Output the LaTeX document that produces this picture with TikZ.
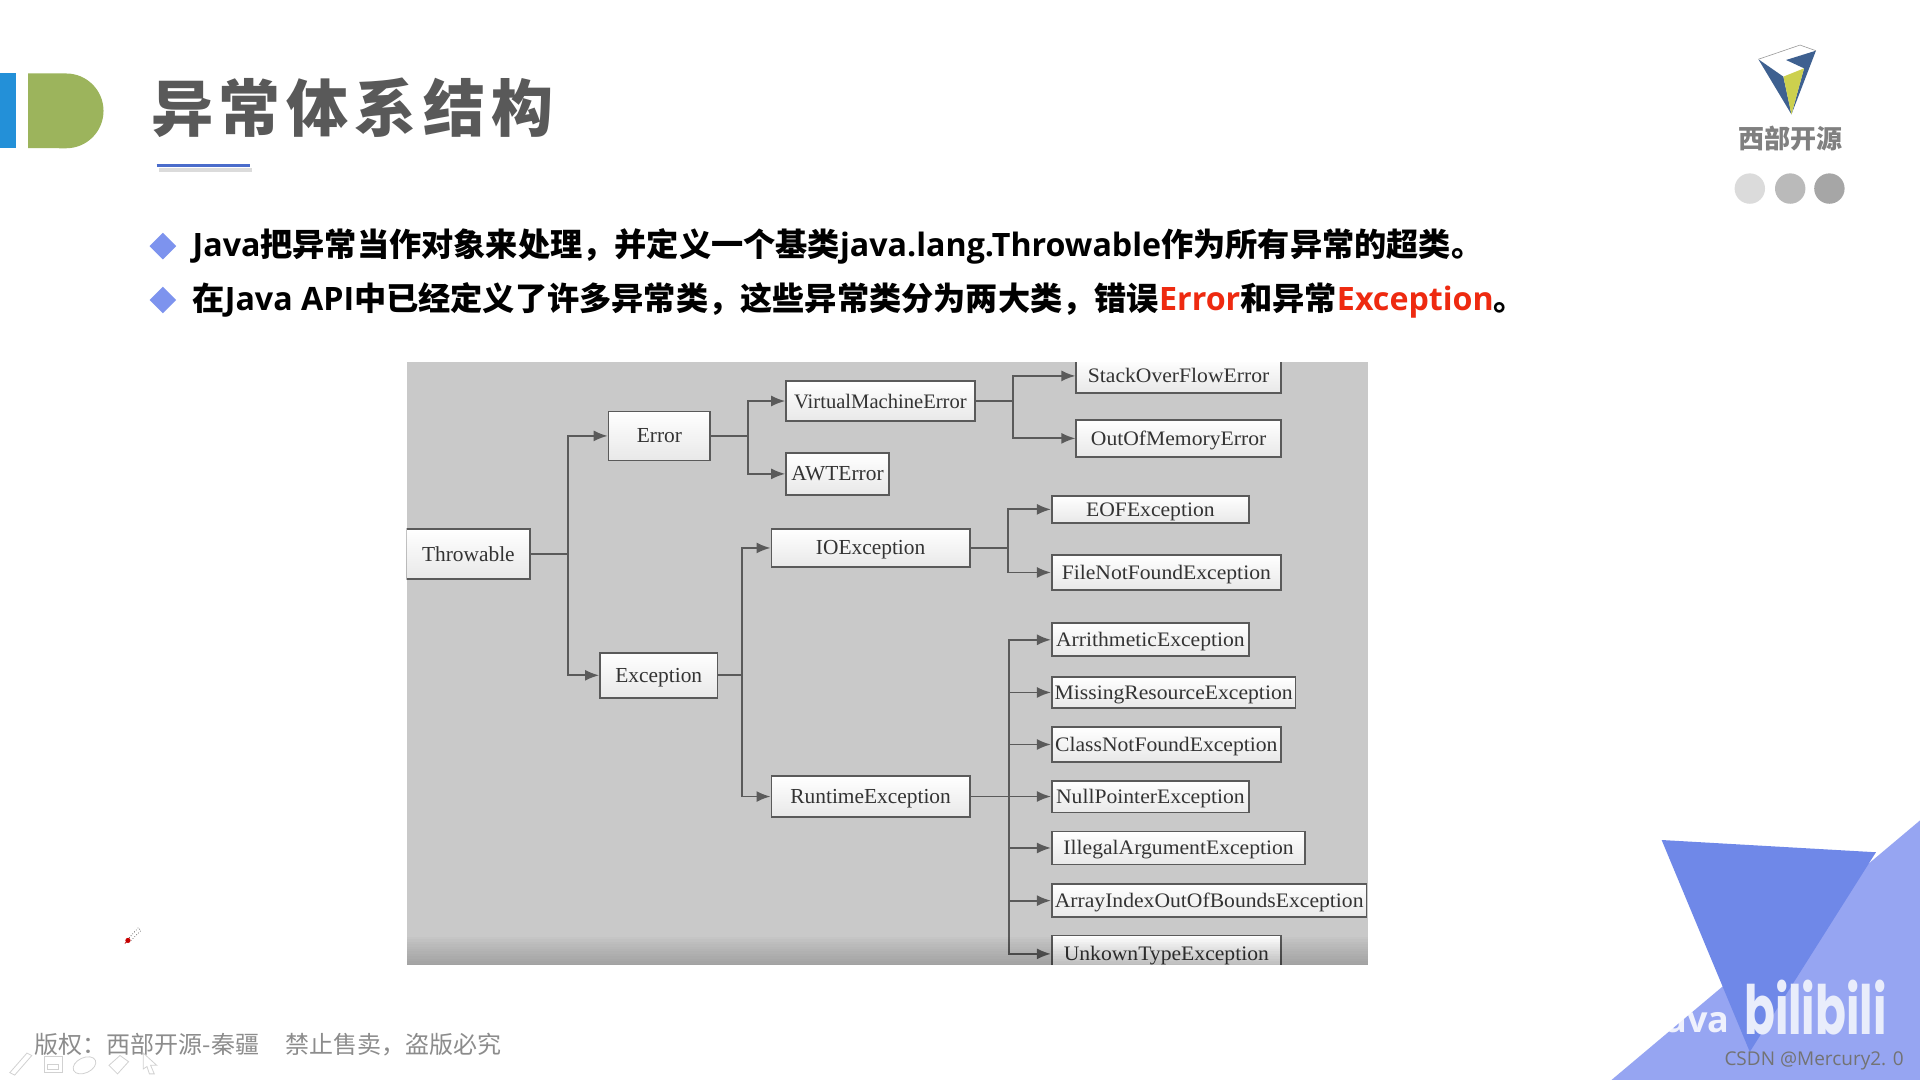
\documentclass[tikz,border=0pt]{standalone}
\usepackage{fontspec}
\setmainfont{Liberation Serif}
\newfontfamily\wideserif[FakeStretch=1.05]{Liberation Serif}
\newfontfamily\cjkfont{Noto Sans CJK SC}
\newfontfamily\titlefont[LetterSpace=9.7]{Noto Sans CJK SC}
\newfontfamily\latinfont{Open Sans}
\newfontfamily\logofont[FakeStretch=0.67]{Poppins}
\usetikzlibrary{positioning, arrows.meta, shapes.geometric}
\definecolor{barblue}{HTML}{2390D8}
\definecolor{barolive}{HTML}{9CB45C}
\definecolor{titlegray}{HTML}{595959}
\definecolor{ruleblue}{HTML}{4A6CCB}
\definecolor{bulletblue}{HTML}{7D93EE}
\definecolor{alertred}{HTML}{EE2A10}
\definecolor{panelgray}{HTML}{C9C9C9}
\definecolor{boxedge}{HTML}{5A5A5A}
\definecolor{boxtext}{HTML}{333333}
\definecolor{logoblue}{HTML}{3E6090}
\definecolor{logoyellow}{HTML}{CCD04E}
\definecolor{triplight}{HTML}{96A5F2}
\definecolor{tripdark}{HTML}{6F88E8}
\tikzset{
    wh/.style 2 args={minimum width=#1*0.61224pt, minimum height=#2*0.61224pt},
    cls/.style={draw=boxedge, line width=0.9pt, top color=white, bottom color=black!9, text=boxtext, inner sep=0pt, text height=7pt, text depth=0pt, font=\fontsize{10.7}{12}\selectfont},
    wide/.style={cls, font=\fontsize{10.3}{12}\wideserif},
    link/.style={draw=boxedge, line width=0.9pt, -{Latex[length=7pt,width=5.5pt]}},
    stem/.style={draw=boxedge, line width=0.9pt},
    bullet/.style={diamond, fill=bulletblue, inner sep=0pt, minimum width=13.5pt, minimum height=13.5pt},
    line/.style={anchor=west, inner sep=0pt, font=\fontsize{16.1}{20}\cjkfont\bfseries},
    tool/.style={draw=black!18, line width=0.4pt}
}
\newcommand{\lat}[1]{{\latinfont\bfseries #1}}
\begin{document}
\begin{tikzpicture}[x=0.61224pt, y=-0.61224pt]
    \useasboundingbox (0, 0) rectangle (1568, 882);
    \fill[white] (0, 0) rectangle (1568, 882);

    \fill[barblue] (0, 60) rectangle (13, 121);
    \fill[barolive] (23, 60) -- (54, 60) arc[start angle=90, end angle=-90, radius=18.7pt] -- (23, 121) -- cycle;
    \node [anchor=west, inner sep=0pt, text=titlegray, font=\fontsize{31}{36}\titlefont\bfseries] (title) at (123, 88) {异常体系结构};
    \draw[black!14, line width=2pt] (130, 138.5) -- (206, 138.5);
    \draw[ruleblue, line width=1.4pt] (128, 135) -- (204, 135);

    \node [bullet] (dotA) at (133, 201) {};
    \node [bullet] (dotB) at (133, 245) {};
    \node [line] (lineA) at (157, 201.5) {\lat{Java}把异常当作对象来处理，并定义一个基类\lat{java.lang.Throwable}作为所有异常的超类。};
    \node [line] (lineB) at (157, 245.5) {在\lat{Java API}中已经定义了许多异常类，这些异常类分为两大类，错误\textcolor{alertred}{\lat{Error}}和异常\textcolor{alertred}{\lat{Exception}}。};

    \fill[logoblue] (1436, 48.4) -- (1456.4, 62.6) -- (1463, 93.4) -- cycle;
    \fill[logoblue] (1483, 41.4) -- (1458.6, 49) -- (1473.3, 55.8) -- (1463, 93.4) -- cycle;
    \fill[logoyellow] (1456.4, 62.6) -- (1473.3, 55.8) -- (1463, 93.4) -- cycle;
    \draw[black!40, line width=0.3pt] (1436, 48.4) -- (1470, 36.8) -- (1483, 41.4);
    \node [text=black!50, inner sep=0pt, font=\fontsize{13}{16}\cjkfont\bfseries] (brand) at (1462, 113) {西部开源};
    \fill[black!14] (1429, 154) circle[radius=7.6pt];
    \fill[black!27] (1462, 154) circle[radius=7.6pt];
    \fill[black!35] (1494, 154) circle[radius=7.6pt];

    \begin{scope}
        \clip (332, 296) rectangle (1117, 788);
        \fill[panelgray] (332, 296) rectangle (1117, 788);

        \node [cls, wh={101}{41}] (thr) at (382.5, 452.5) {Throwable};
        \node [cls, wh={83}{40}] (err) at (538.5, 356) {Error};
        \node [cls, wh={96}{37}] (exc) at (538, 551.5) {Exception};
        \node [cls, wh={154}{33}, font=\fontsize{10.3}{12}\selectfont] (vme) at (719, 327.5) {VirtualMachineError};
        \node [cls, wh={84}{34}] (awt) at (684, 387) {AWTError};
        \node [cls, wh={162}{31}] (io) at (711, 447.5) {IOException};
        \node [cls, wh={162}{33}] (rt) at (711, 650.5) {RuntimeException};

        \node [wide, wh={167}{28}] (so) at (962.5, 307) {StackOverFlowError};
        \node [wide, wh={167}{30}] (oom) at (962.5, 358) {OutOfMemoryError};
        \node [wide, wh={161}{22}] (eof) at (939.5, 416) {EOFException};
        \node [wide, wh={187}{29}] (fnf) at (952.5, 467.5) {FileNotFoundException};
        \node [wide, wh={161}{27}] (ari) at (939.5, 522.5) {ArrithmeticException};
        \node [wide, wh={199}{25}] (mis) at (958.5, 565.5) {MissingResourceException};
        \node [wide, wh={187}{28}] (cnf) at (952.5, 608) {ClassNotFoundException};
        \node [wide, wh={161}{26}] (npe) at (939.5, 650.5) {NullPointerException};
        \node [wide, wh={207}{27}] (iae) at (962.5, 692.5) {IllegalArgumentException};
        \node [wide, wh={257}{27}] (aio) at (987.5, 735.5) {ArrayIndexOutOfBoundsException};
        \node [wide, wh={187}{30}] (ukt) at (952.5, 779) {UnkownTypeException};

        \coordinate (thrJoin) at (464, 452.5);
        \coordinate (errJoin) at (611, 356);
        \coordinate (excJoin) at (606, 551.5);
        \coordinate (vmeJoin) at (827, 327.5);
        \coordinate (ioJoin) at (823, 447.5);
        \coordinate (rtJoin) at (824, 650.5);

        \draw[stem] (thr.east) -- (thrJoin);
        \draw[link] (thrJoin) |- (err.west);
        \draw[link] (thrJoin) |- (exc.west);
        \draw[stem] (err.east) -- (errJoin);
        \draw[link] (errJoin) |- (vme.west);
        \draw[link] (errJoin) |- (awt.west);
        \draw[stem] (exc.east) -- (excJoin);
        \draw[link] (excJoin) |- (io.west);
        \draw[link] (excJoin) |- (rt.west);
        \draw[stem] (vme.east) -- (vmeJoin);
        \draw[link] (vmeJoin) |- (so.west);
        \draw[link] (vmeJoin) |- (oom.west);
        \draw[stem] (io.east) -- (ioJoin);
        \draw[link] (ioJoin) |- (eof.west);
        \draw[link] (ioJoin) |- (fnf.west);
        \draw[link] (rt.east) -- (npe.west);
        \draw[link] (rtJoin) |- (ari.west);
        \draw[link] (rtJoin) |- (mis.west);
        \draw[link] (rtJoin) |- (cnf.west);
        \draw[link] (rtJoin) |- (iae.west);
        \draw[link] (rtJoin) |- (aio.west);
        \draw[link] (rtJoin) |- (ukt.west);

        \foreach \i in {0,...,11}
            \fill[black, opacity=0.016] (332, 765+2*\i) rectangle (1117, 788);
    \end{scope}

    \draw[black, line width=0.3pt, densely dotted] (105.5, 766) -- (113, 757.5) -- (115, 760) -- (107, 768);
    \fill[red!80!black] (104.5, 768) circle[radius=1.3pt];
    \draw[red!70!black, line width=0.3pt] (104.5, 768) -- (102, 770.5);

    \node [anchor=west, inner sep=0pt, text=black!45, font=\fontsize{12}{15}\cjkfont] (rights) at (28, 853) {版权：西部开源-秦疆\hspace{1.12em}禁止售卖，盗版必究};

    \draw[tool] (8, 876) -- (22, 860) -- (26, 862) -- (12, 878) -- cycle;
    \draw[tool] (36, 863) rectangle (51, 875.5);
    \draw[tool] (39, 869) rectangle (48, 873);
    \draw[tool] (69, 870) ellipse[x radius=6pt, y radius=3.8pt, rotate=25];
    \draw[tool] (89, 870) -- (98, 862) -- (105, 867) -- (96, 877) -- cycle;
    \draw[tool] (117, 860) -- (128, 870) -- (123, 870) -- (126, 877) -- (122, 877) -- (120, 871) -- (117, 873) -- cycle;

    \fill[triplight] (1568, 670) -- (1568, 882) -- (1316, 882) -- cycle;
    \fill[tripdark] (1357, 686) -- (1532, 696) -- (1429, 859) -- cycle;
    \node [anchor=west, inner sep=0pt, text=white, opacity=0.85, font=\fontsize{18}{24}\latinfont\bfseries] (java) at (1350, 836) {Java};
    \node [anchor=west, inner sep=0pt, text height=24pt, text depth=0pt, text=white!85!tripdark, font=\fontsize{34}{40}\logofont\bfseries] (bili) at (1424, 825) {bilibili};
    \node [anchor=east, inner sep=0pt, text=black!55, font=\fontsize{9.5}{12}\latinfont] (csdn) at (1555, 866) {CSDN @Mercury2. 0};
\end{tikzpicture}
\end{document}
